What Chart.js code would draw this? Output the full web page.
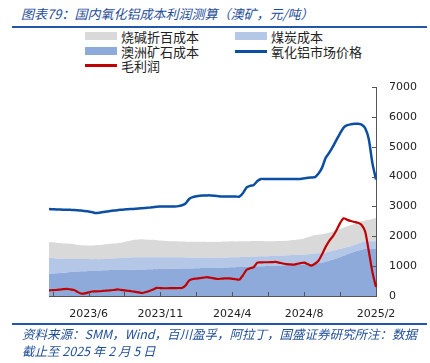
<!DOCTYPE html>
<html>
<head>
<meta charset="utf-8">
<script src="https://cdn.jsdelivr.net/npm/chart.js@4"></script>
<style>
  body { margin: 0; width: 430px; height: 363px; background: #fff; position: relative; overflow: hidden; }
  #chart { position: absolute; left: 0; top: 0; }
  .title { position: absolute; left: 21px; top: 4px; font: italic 13px "Noto Sans CJK SC", sans-serif; color: #1f4e99; white-space: nowrap; }
  .rule { position: absolute; left: 12px; width: 415px; height: 2px; background: #2356a8; }
  .legend { position: absolute; font: 13px "Noto Sans CJK SC", sans-serif; color: #222; white-space: nowrap; }
  .legend span.sw { position: absolute; left: 0; width: 32px; }
  .legend span.tx { position: absolute; left: 36px; top: -9px; }
  .source { position: absolute; left: 22px; top: 325px; font: italic 12.5px "Noto Sans CJK SC", sans-serif; color: #1f4e99; line-height: 17px; white-space: nowrap; }
</style>
</head>
<body>
<div class="title">图表79：国内氧化铝成本利润测算（澳矿，元/吨）</div>
<div class="rule" style="top:26px"></div>
<div id="legend"></div>
<canvas id="chart" width="430" height="363"></canvas>
<div class="rule" style="top:323px"></div>
<div class="source">资料来源：SMM，Wind，百川盈孚，阿拉丁，国盛证券研究所注：数据<br>截止至 2025 年 2 月 5 日</div>
<script>
// 横轴标签（每 20 个点一个）
const tickLabels = ['2023/6', '2023/11', '2024/4', '2024/8', '2025/2'];

// 澳洲矿石成本
const oreCost = [
  740,750,760,770,780,790,800,810,820,830,
  830,840,840,850,850,860,860,870,870,870,
  870,875,880,880,880,885,890,890,895,900,
  900,905,905,910,910,915,915,920,920,925,
  925,930,930,935,935,940,940,945,950,955,
  955,960,965,970,975,980,985,990,995,1000,
  1000,1005,1010,1015,1020,1025,1030,1035,1040,1045,
  1050,1060,1070,1080,1090,1100,1120,1150,1180,1220,
  1260,1300,1350,1400,1440,1480,1520,1550,1570,1570,
  1570,1570
];
// 煤炭成本
const coalCost = [
  530,520,500,480,460,450,440,430,420,410,
  410,400,395,390,385,380,380,385,390,395,
  400,405,410,410,415,415,410,405,400,400,
  395,390,390,385,385,385,380,375,370,365,
  360,355,350,345,340,340,335,335,335,335,
  335,335,330,330,330,330,330,330,330,330,
  330,330,330,330,330,330,330,330,330,330,
  330,330,330,330,330,330,320,310,300,300,
  290,280,260,240,230,230,240,250,260,260,
  260,260
];
// 烧碱折百成本
const sodaCost = [
  530,530,525,525,520,520,510,490,470,460,
  455,450,455,460,470,480,490,495,500,505,
  510,530,550,570,585,595,600,595,585,580,
  575,565,555,545,535,530,530,530,530,530,
  530,535,535,535,535,535,535,535,535,535,
  535,535,530,530,525,525,520,520,515,510,
  505,500,495,490,490,485,490,495,505,510,
  520,540,565,590,620,625,630,635,640,640,
  650,665,680,695,710,705,700,700,700,720,
  750,770
];
// 氧化铝市场价格
const aluminaPrice = [
  2910,2905,2900,2895,2890,2890,2885,2880,2870,2860,
  2850,2830,2810,2780,2790,2810,2830,2845,2860,2875,
  2890,2900,2905,2915,2920,2930,2940,2950,2960,2975,
  2990,2995,3000,3000,3000,3000,3010,3040,3100,3250,
  3310,3340,3360,3365,3370,3370,3360,3345,3330,3330,
  3330,3330,3330,3330,3450,3640,3690,3720,3850,3920,
  3920,3920,3920,3920,3920,3920,3920,3920,3920,3920,
  3920,3940,3960,3970,3980,4100,4300,4630,4800,5000,
  5230,5450,5640,5720,5750,5770,5770,5740,5620,5250,
  4450,3900
];
// 毛利润
const grossProfit = [
  190,195,200,215,230,240,220,200,130,80,
  90,120,150,155,160,170,180,190,200,220,
  205,190,175,160,140,120,100,135,170,220,
  270,265,260,260,262,265,268,270,350,520,
  570,585,600,615,630,610,590,570,580,590,
  590,575,560,550,700,880,930,970,1120,1125,
  1130,1130,1135,1140,1120,1090,1070,1060,1050,1075,
  1100,1120,1070,1020,1080,1180,1400,1650,1850,2000,
  2200,2440,2600,2550,2510,2480,2450,2380,2150,1500,
  800,300
];

const names = ['烧碱折百成本', '煤炭成本', '澳洲矿石成本', '氧化铝市场价格', '毛利润'];
const colors = ['#d9d9d9', '#b4c7e7', '#8eaadb', '#0b4ea2', '#c00000'];

// 类别：每个点一个，只有对应位置带日期
const categories = oreCost.map((v, i) => ((i - 11) % 20 === 0 && i >= 11) ? tickLabels[(i - 11) / 20] : '');

// 图例（两列）
const legendPos = [[85, 36], [235, 36], [85, 51], [235, 51], [85, 65]];
const legendEl = document.getElementById('legend');
names.forEach((n, k) => {
  const d = document.createElement('div');
  d.className = 'legend';
  d.style.left = legendPos[k][0] + 'px';
  d.style.top = legendPos[k][1] + 'px';
  const isLine = k >= 3;
  d.innerHTML = '<span class="sw" style="background:' + colors[k] + ';top:' + (isLine ? -1 : -4) +
    'px;height:' + (isLine ? 2.5 : 8) + 'px"></span><span class="tx">' + n + '</span>';
  legendEl.appendChild(d);
});

// 向内的刻度线
const innerTicks = {
  id: 'innerTicks',
  afterDraw(chart) {
    const c = chart.ctx, x = chart.scales.x, y = chart.scales.y;
    c.save();
    c.strokeStyle = '#555';
    c.lineWidth = 1;
    c.beginPath();
    for (let i = 1; i < categories.length; i += 10) {
      const px = Math.round(x.getPixelForTick(i)) + 0.5;
      c.moveTo(px, y.bottom);
      c.lineTo(px, y.bottom - 4);
    }
    y.ticks.forEach((t) => {
      const py = Math.round(y.getPixelForValue(t.value)) + 0.5;
      c.moveTo(y.left, py);
      c.lineTo(y.left - 4, py);
    });
    c.stroke();
    c.restore();
  }
};

const ctx = document.getElementById('chart');

new Chart(ctx, {
  type: 'line',
  data: {
    labels: categories,
    datasets: [
      { label: names[2], data: oreCost, stack: 'cost', fill: 'origin', backgroundColor: colors[2], borderWidth: 0, order: 2 },
      { label: names[1], data: coalCost, stack: 'cost', fill: '-1', backgroundColor: colors[1], borderWidth: 0, order: 2 },
      { label: names[0], data: sodaCost, stack: 'cost', fill: '-1', backgroundColor: colors[0], borderWidth: 0, order: 2 },
      { label: names[3], data: aluminaPrice, stack: 'price', fill: false, borderColor: colors[3], borderWidth: 2.5, order: 1 },
      { label: names[4], data: grossProfit, stack: 'profit', fill: false, borderColor: colors[4], borderWidth: 2.2, order: 0 }
    ]
  },
  options: {
    responsive: false,
    animation: false,
    elements: { point: { radius: 0 }, line: { tension: 0.2 } },
    layout: { padding: { left: 49, top: 87, right: 0, bottom: 45 } },
    plugins: { legend: { display: false }, tooltip: { enabled: false } },
    scales: {
      x: {
        grid: { drawOnChartArea: false, drawTicks: false },
        border: { color: '#555', width: 1 },
        ticks: {
          autoSkip: false,
          maxRotation: 0,
          padding: 12,
          color: '#222',
          font: { family: 'DejaVu Sans', size: 11 }
        },
        afterFit: (s) => { s.height = 22; }
      },
      y: {
        position: 'right',
        stacked: true,
        min: 0,
        max: 7000,
        grid: { drawOnChartArea: false, drawTicks: false },
        border: { color: '#555', width: 1 },
        ticks: {
          stepSize: 1000,
          padding: 13,
          color: '#222',
          font: { family: 'DejaVu Sans', size: 11 },
          callback: (v) => String(v)
        },
        afterFit: (s) => { s.width = 54; }
      }
    }
  },
  plugins: [innerTicks]
});
</script>
</body>
</html>
